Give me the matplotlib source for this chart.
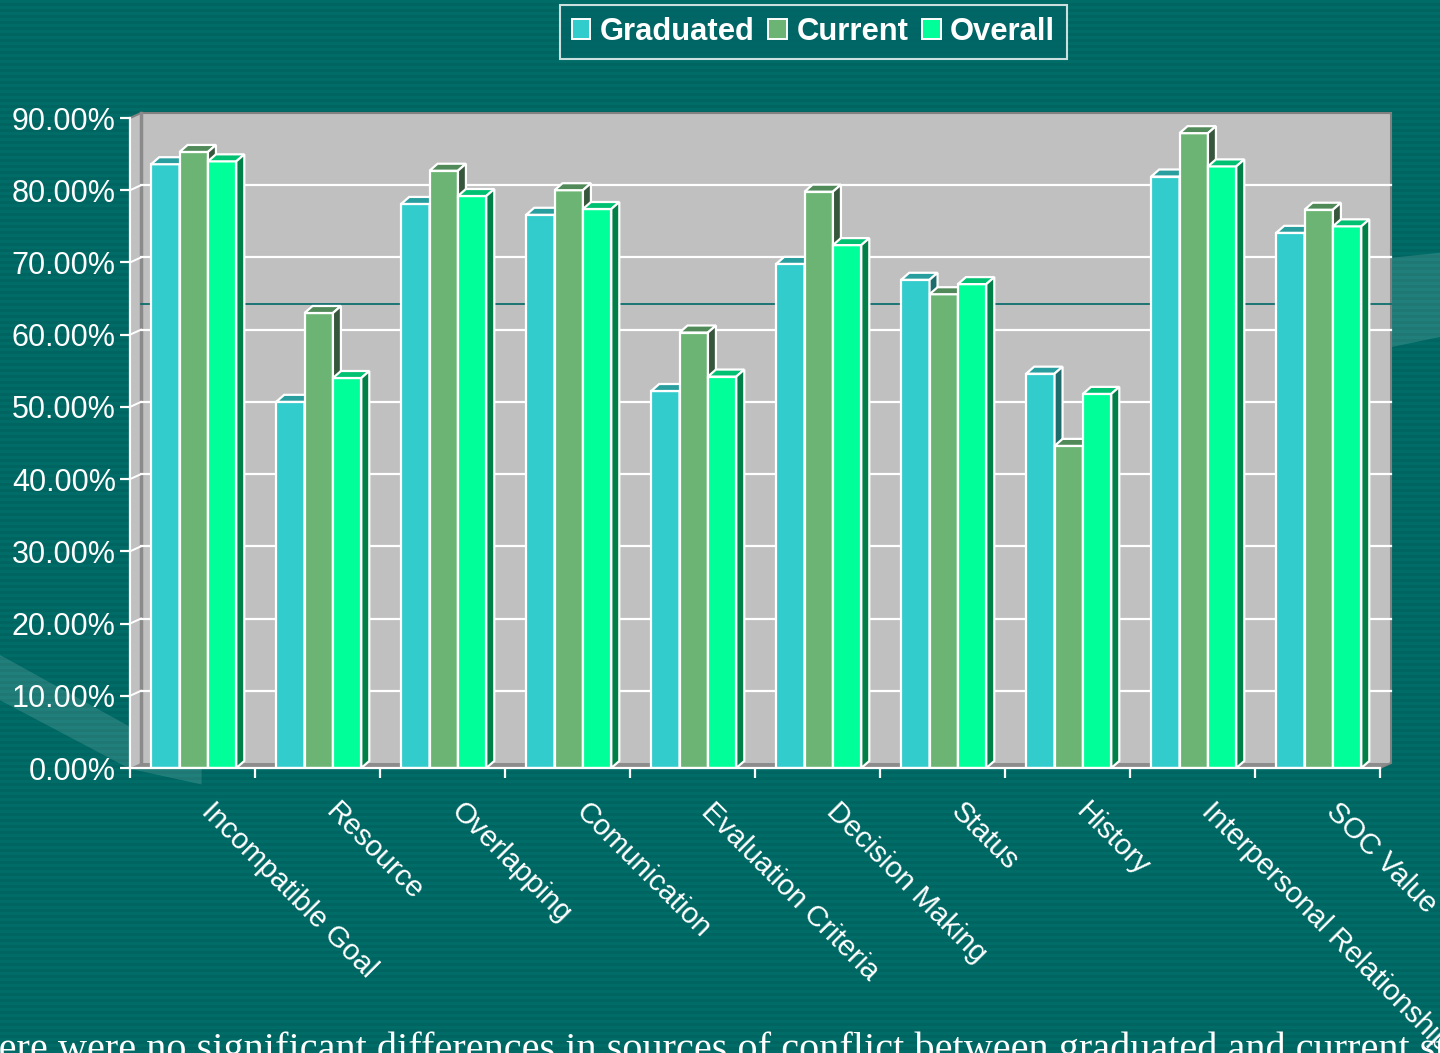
import numpy as np
import matplotlib
matplotlib.use("Agg")
import matplotlib.pyplot as plt
from matplotlib.patches import Polygon, Patch
from matplotlib.transforms import ScaledTranslation

categories = ["Incompatible Goal", "Resource", "Overlapping", "Comunication",
              "Evaluation Criteria", "Decision Making", "Status", "History",
              "Interpersonal Relationship", "SOC Value"]
graduated = [83.6, 50.7, 78.1, 76.6, 52.2, 69.8, 67.6, 54.6, 81.9, 74.1]
current = [85.3, 63.0, 82.7, 80.0, 60.3, 79.8, 65.6, 44.6, 87.9, 77.3]
overall = [84.0, 54.0, 79.2, 77.4, 54.2, 72.4, 67.0, 51.8, 83.3, 75.0]
series_names = ["Graduated", "Current", "Overall"]
ref_line = 63.5
caption = ("There were no significant differences in sources of conflict "
           "between graduated and current students")

# front / top / side colours per series
faces = ["#33cccc", "#6bb474", "#00ff99"]
tops = ["#299e9e", "#4f8a58", "#00c072"]
sides = ["#1d6b6b", "#36573b", "#008048"]
bg = "#006a65"

plt.rcParams["font.family"] = ["Liberation Sans", "DejaVu Sans"]

fig = plt.figure(figsize=(14.4, 10.53), dpi=100)
fig.patch.set_facecolor(bg)

# faint horizontal stripes of the slide background
bga = fig.add_axes([0, 0, 1, 1], zorder=-10)
rows = (np.arange(1053) // 3) % 2
bga.imshow(rows[:, None], cmap=matplotlib.colors.ListedColormap(["#006c67", "#006561"]),
           aspect="auto", extent=[0, 1, 0, 1], interpolation="nearest")
bga.add_patch(Polygon([[0, 0.378], [0, 0.335], [0.09, 0.27], [0.14, 0.255],
                       [0.14, 0.29], [0.09, 0.31]], closed=True,
                      facecolor="white", alpha=0.13, edgecolor="none"))
bga.add_patch(Polygon([[0.965, 0.755], [1, 0.76], [1, 0.68], [0.965, 0.67]],
                      closed=True, facecolor="white", alpha=0.13, edgecolor="none"))
bga.set_xlim(0, 1)
bga.set_ylim(0, 1)
bga.axis("off")

ax = fig.add_axes([130 / 1440, 285 / 1053, 1250 / 1440, 650 / 1053])
ax.set_facecolor("none")
n = len(categories)
ax.set_xlim(0, n)
ax.set_ylim(0, 90)

# 3d box walls
wx, wy = 0.088, 0.69
wall = Polygon([[0, 0], [0, 90], [wx, 90 + wy], [n + wx, 90 + wy], [n + wx, wy], [n, 0]],
               closed=True, facecolor="#c0c0c0", edgecolor="#808080", lw=1.5,
               clip_on=False, zorder=0)
ax.add_patch(wall)
floor = Polygon([[0, 0], [wx, wy], [n + wx, wy], [n, 0]], closed=True,
                facecolor="#8c8c8c", edgecolor="none", clip_on=False, zorder=0.2)
ax.add_patch(floor)
ax.plot([wx, wx], [wy, 90 + wy], color="#8a8a8a", lw=2.5, zorder=0.3, clip_on=False)

ticks = np.arange(0, 91, 10)
for v in ticks[1:-1]:
    ax.plot([wx, n + wx], [v + wy, v + wy], color="white", lw=1.6, zorder=0.5, clip_on=False)
    ax.plot([0, wx], [v, v + wy], color="white", lw=1.4, zorder=0.5, clip_on=False)
ax.plot([wx, n + wx], [ref_line + wy, ref_line + wy], color="#006666", lw=1.2,
        zorder=0.6, clip_on=False)

# bars with fake depth
w = 0.227
dx, dy = 0.064, 0.97
centers = np.arange(n) + 0.51
for k, vals in enumerate([graduated, current, overall]):
    lefts = centers + (k - 1.5) * w
    ax.bar(lefts, vals, width=w, align="edge", color=faces[k], edgecolor="white",
           lw=1.6, zorder=2 + k)
    for x0, h in zip(lefts, vals):
        top = Polygon([[x0, h], [x0 + w, h], [x0 + w + dx, h + dy], [x0 + dx, h + dy]],
                      closed=True, facecolor=tops[k], edgecolor="white", lw=1.6, zorder=2 + k)
        side = Polygon([[x0 + w, 0], [x0 + w, h], [x0 + w + dx, h + dy], [x0 + w + dx, dy]],
                       closed=True, facecolor=sides[k], edgecolor="white", lw=1.6, zorder=2 + k)
        ax.add_patch(top)
        ax.add_patch(side)

# axes and ticks
for s in ["top", "right"]:
    ax.spines[s].set_visible(False)
for s in ["left", "bottom"]:
    ax.spines[s].set_color("white")
    ax.spines[s].set_linewidth(1.6)
    ax.spines[s].set_zorder(6)

ax.set_yticks(ticks, [f"{v:.2f}%" for v in ticks])
ax.tick_params(axis="y", colors="white", labelsize=22, length=7.2, width=1.6, pad=3)

ax.set_xticks(np.arange(n) + 0.5, categories, rotation=-45, ha="left", va="top",
              rotation_mode="anchor")
ax.set_xticks(np.arange(n + 1), minor=True)
ax.tick_params(axis="x", which="major", length=0, pad=21, colors="white", labelsize=21)
ax.tick_params(axis="x", which="minor", length=7.2, width=1.6, color="white")
shift = ScaledTranslation(23 / 100, 0, fig.dpi_scale_trans)
for lbl in ax.get_xticklabels():
    lbl.set_transform(lbl.get_transform() + shift)

# legend
handles = [Patch(facecolor=faces[k], edgecolor="white", lw=1.4, label=series_names[k])
           for k in range(3)]
leg = fig.legend(handles=handles, loc="upper center", ncol=3,
                 bbox_to_anchor=(813.5 / 1440, 1 - 5 / 1053),
                 prop={"weight": "bold", "size": 22.3}, frameon=True, fancybox=False,
                 handlelength=0.6, handleheight=0.6, handletextpad=0.3,
                 columnspacing=0.45, borderpad=0.38, borderaxespad=0)
leg.get_frame().set_facecolor("#006666")
leg.get_frame().set_edgecolor("white")
leg.get_frame().set_linewidth(1.5)
for t in leg.get_texts():
    t.set_color("white")

fig.text(-46 / 1440, -7 / 1053, caption, family=["Liberation Serif", "DejaVu Serif"],
         size=29, color="white", ha="left", va="baseline")

fig.savefig("out.png", dpi=100, facecolor=fig.get_facecolor())
